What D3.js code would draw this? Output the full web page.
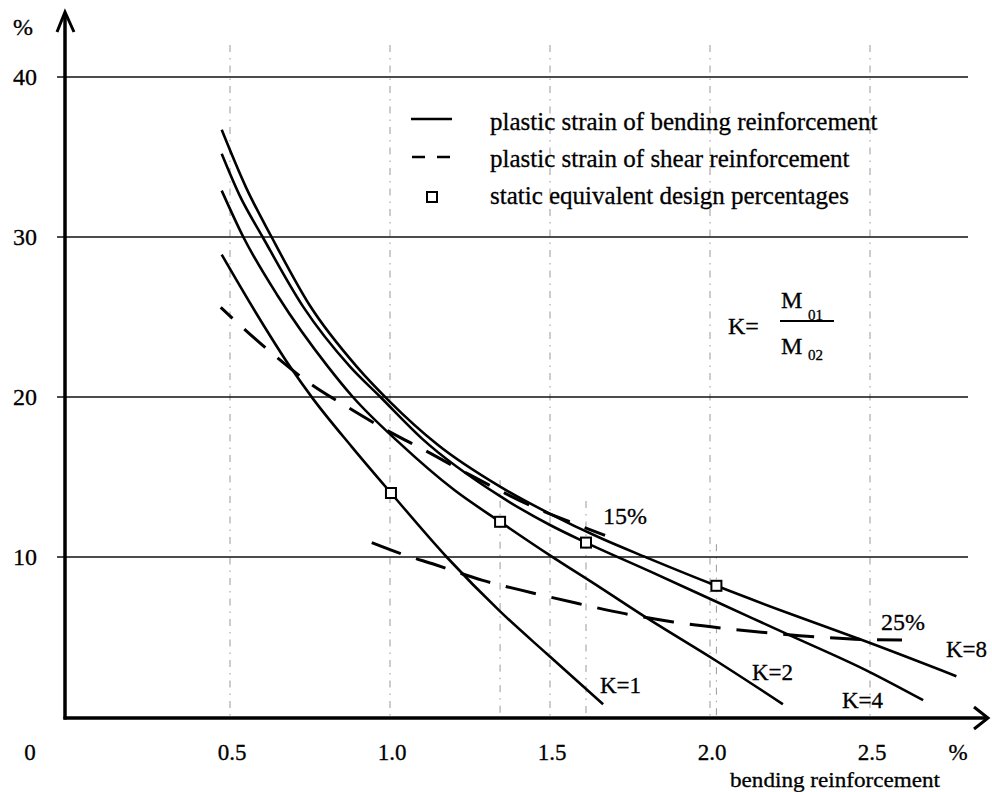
<!DOCTYPE html>
<html><head><meta charset="utf-8">
<script src="https://cdn.jsdelivr.net/npm/d3@7"></script>
<style>
body{margin:0;background:#fff}
svg text{font-family:"Liberation Serif","Times New Roman",serif;fill:#000;stroke:#000;stroke-width:0.3}
</style></head>
<body><svg id="c" width="992" height="792"></svg>
<script>
// ---- data ----
const yTicks = [10, 20, 30, 40];
const xTicks = [0.5, 1.0, 1.5, 2.0, 2.5];
const xTickLabels = ["0.5", "1.0", "1.5", "2.0", "2.5"];
const kNames = ["K=1", "K=2", "K=4", "K=8"];
const curveK1 = [[0.474,28.9],[0.58,25.3],[0.6875,21.9],[0.759,19.9],[0.88,16.9],[1.003,14.0],[1.177,10.0],[1.344,6.6],[1.49,3.95],[1.666,0.8]];
const curveK2 = [[0.474,32.9],[0.5416,30.0],[0.65,26.3],[0.806,21.9],[0.884,20.0],[1.031,17.1],[1.2,14.2],[1.344,12.2],[1.5,10.1],[1.656,8.1],[1.79,6.35],[2.02,3.5],[2.228,0.8]];
const curveK4 = [[0.474,35.2],[0.53,32.6],[0.602,30.0],[0.73,25.6],[0.875,21.9],[0.97,20.0],[1.1,17.4],[1.344,13.8],[1.5,12.0],[1.6125,10.9],[1.8125,9.1],[2.02,7.2],[2.25,5.1],[2.49,2.9],[2.666,1.05]];
const curveK8 = [[0.474,36.7],[0.55,33.1],[0.63,30.0],[0.75,25.7],[0.896,21.9],[1.0,19.7],[1.15,17.0],[1.344,14.4],[1.5,12.7],[1.656,11.2],[1.81,9.9],[2.02,8.2],[2.25,6.45],[2.49,4.7],[2.77,2.55]];
const shear15 = [[0.471,25.6],[0.633,22.7],[0.753,20.8],[0.873,19.3],[0.992,17.9],[1.115,16.6],[1.234,15.3],[1.474,12.9],[1.5875,12.0],[1.672,11.35]];
const shear25 = [[0.943,10.9],[1.04,10.17],[1.14,9.53],[1.29,8.54],[1.443,7.77],[1.588,7.09],[1.734,6.46],[1.885,5.94],[2.036,5.56],[2.1875,5.25],[2.338,5.0],[2.49,4.84],[2.6,4.82]];
const squares = [[1.003,14.0],[1.344,12.2],[1.6125,10.9],[2.02,8.2]];
const shearNames = ["15%", "25%"];
const legendItems = ["plastic strain of bending reinforcement", "plastic strain of shear reinforcement", "static equivalent design percentages"];

// ---- layout ----
const svg = d3.select("#c");
const x = d3.scaleLinear().domain([0, 2.5]).range([70, 870]);
const y = d3.scaleLinear().domain([0, 40]).range([717, 77]);
const axisX = 65, axisY = 718;

// vertical dotted grid lines
svg.append("g").selectAll("line").data(xTicks).join("line")
  .attr("x1", d => x(d)).attr("x2", d => x(d))
  .attr("y1", y(42)).attr("y2", axisY)
  .attr("stroke", "#999").attr("stroke-width", 1).attr("stroke-dasharray", "7,6,1.5,6");
// drop lines under squares
svg.append("g").selectAll("line").data(squares.slice(1)).join("line")
  .attr("x1", d => x(d[0])).attr("x2", d => x(d[0]))
  .attr("y1", d => y(d[1] + 2.6)).attr("y2", axisY)
  .attr("stroke", "#999").attr("stroke-width", 1).attr("stroke-dasharray", "7,6,1.5,6");

// horizontal grid lines
svg.append("g").selectAll("line").data(yTicks).join("line")
  .attr("x1", 57).attr("x2", 968)
  .attr("y1", d => y(d)).attr("y2", d => y(d))
  .attr("stroke", "#111").attr("stroke-width", 1.6);

// y tick labels
svg.append("g").selectAll("text").data(yTicks).join("text")
  .attr("x", 37).attr("y", d => y(d) + 8)
  .attr("text-anchor", "end").attr("font-size", 24)
  .text(d => d);
svg.append("text").attr("x", 13).attr("y", 35).attr("font-size", 24).text("%");

// x tick labels
svg.append("g").selectAll("text").data(xTicks).join("text")
  .attr("x", (d) => x(d) + 2).attr("y", 760)
  .attr("text-anchor", "middle").attr("font-size", 23)
  .text((d, i) => xTickLabels[i]);
svg.append("text").attr("x", 30).attr("y", 760).attr("text-anchor", "middle").attr("font-size", 23).text("0");
svg.append("text").attr("x", 958).attr("y", 760).attr("text-anchor", "middle").attr("font-size", 23).text("%");
svg.append("text").attr("x", 730).attr("y", 787).attr("font-size", 21)
  .attr("textLength", 210).attr("lengthAdjust", "spacingAndGlyphs").text("bending reinforcement");

// axes
svg.append("line").attr("x1", axisX).attr("x2", axisX).attr("y1", 13).attr("y2", axisY + 1.5)
  .attr("stroke", "#000").attr("stroke-width", 3.5);
svg.append("line").attr("x1", axisX - 1.5).attr("x2", 987).attr("y1", axisY).attr("y2", axisY)
  .attr("stroke", "#000").attr("stroke-width", 3.5);
svg.append("path").attr("d", `M${axisX-8},32 L${axisX},12 L${axisX+9},32`)
  .attr("fill", "none").attr("stroke", "#000").attr("stroke-width", 3);
svg.append("path").attr("d", `M974,707 L988,718 L974,729`)
  .attr("fill", "none").attr("stroke", "#000").attr("stroke-width", 3);

// curves
const line = d3.line().x(d => x(d[0])).y(d => y(d[1])).curve(d3.curveMonotoneX);
const curves = [curveK1, curveK2, curveK4, curveK8];
svg.append("g").selectAll("path").data(curves).join("path")
  .attr("d", line).attr("fill", "none").attr("stroke", "#000").attr("stroke-width", 2.6);
svg.append("g").selectAll("path").data([shear15, shear25]).join("path")
  .attr("d", line).attr("fill", "none").attr("stroke", "#000").attr("stroke-width", 3)
  .attr("stroke-dasharray", (d, i) => i === 0 ? "28,16" : "31,16")
  .attr("stroke-dashoffset", (d, i) => i === 0 ? 12 : 0);

// squares
svg.append("g").selectAll("rect").data(squares).join("rect")
  .attr("x", d => x(d[0]) - 5).attr("y", d => y(d[1]) - 5)
  .attr("width", 10).attr("height", 10)
  .attr("fill", "#fff").attr("stroke", "#000").attr("stroke-width", 2);

// curve labels
const kLabelPos = [[600, 693], [752, 680], [842, 708], [946, 657]];
svg.append("g").selectAll("text").data(kNames).join("text")
  .attr("x", (d, i) => kLabelPos[i][0]).attr("y", (d, i) => kLabelPos[i][1])
  .attr("font-size", 23).text(d => d);
const shearLabelPos = [[603, 524], [881, 630]];
svg.append("g").selectAll("text").data(shearNames).join("text")
  .attr("x", (d, i) => shearLabelPos[i][0]).attr("y", (d, i) => shearLabelPos[i][1])
  .attr("font-size", 24).text(d => d);

// legend
const lg = svg.append("g");
const rows = [123, 160, 197];
lg.append("line").attr("x1", 411).attr("x2", 452).attr("y1", rows[0] - 4).attr("y2", rows[0] - 4)
  .attr("stroke", "#000").attr("stroke-width", 2.6);
lg.append("line").attr("x1", 412).attr("x2", 451).attr("y1", rows[1] - 3).attr("y2", rows[1] - 3)
  .attr("stroke", "#000").attr("stroke-width", 2.6).attr("stroke-dasharray", "13,12");
lg.append("rect").attr("x", 427).attr("y", rows[2] - 5).attr("width", 10).attr("height", 10)
  .attr("fill", "#fff").attr("stroke", "#000").attr("stroke-width", 2);
lg.selectAll("text").data(legendItems).join("text")
  .attr("x", 490).attr("y", (d, i) => rows[i] + 7).attr("font-size", 25).text(d => d);

// formula K = M01 / M02
const f = svg.append("g");
f.append("text").attr("x", 728).attr("y", 334).attr("font-size", 24).text("K=");
f.append("text").attr("x", 781).attr("y", 308).attr("font-size", 24).text("M");
f.append("text").attr("x", 808).attr("y", 320).attr("font-size", 15).text("01");
f.append("line").attr("x1", 780).attr("x2", 834).attr("y1", 321).attr("y2", 321)
  .attr("stroke", "#000").attr("stroke-width", 2);
f.append("text").attr("x", 781).attr("y", 354).attr("font-size", 24).text("M");
f.append("text").attr("x", 808).attr("y", 360).attr("font-size", 15).text("02");
</script>
</body></html>
